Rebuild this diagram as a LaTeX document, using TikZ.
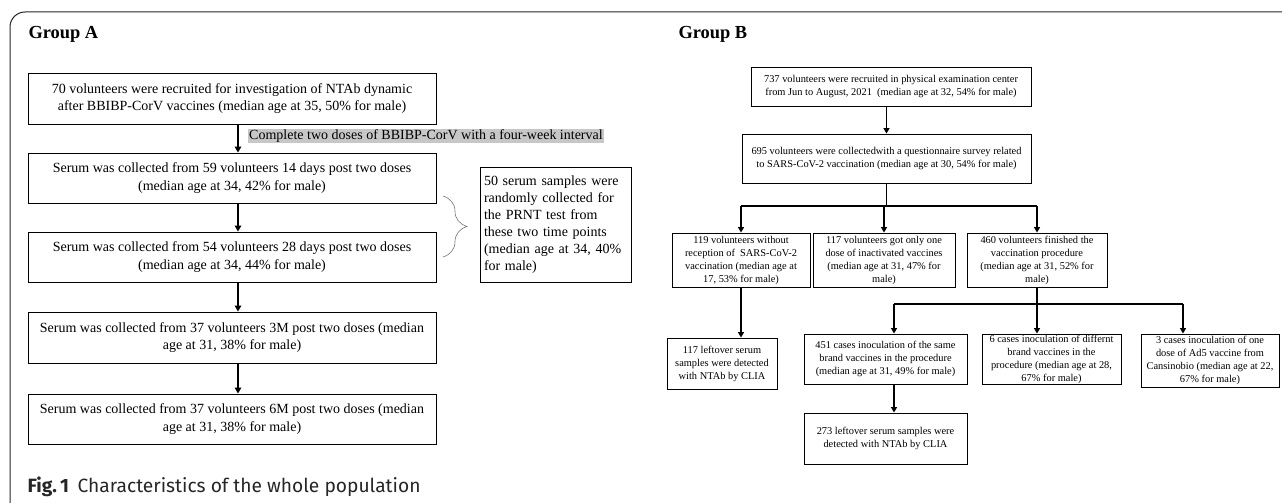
\documentclass[tikz,border=0pt]{standalone}
\usepackage{fontspec}
\setmainfont{Liberation Serif}
\newfontfamily\capfont{Fira Sans}
\usetikzlibrary{arrows.meta,decorations.pathreplacing}

\begin{document}
\begin{tikzpicture}[x=1pt, y=1pt,
    boxA/.style={draw, line width=0.9pt, align=center, inner sep=0pt,
        font=\fontsize{14}{17.5}\selectfont},
    boxB/.style={draw, line width=0.9pt, align=center, inner sep=0pt,
        font=\fontsize{10.4}{13}\selectfont},
    arrA/.style={line width=2.2pt, -{Triangle[length=6pt, width=6.5pt]}},
    arrB/.style={line width=1.8pt, -{Triangle[length=5.5pt, width=6pt]}},
    grouptitle/.style={anchor=west, font=\fontsize{18.4}{20}\selectfont\bfseries}]
    \useasboundingbox (0,0) rectangle (1282,-503);

    % Open frame round the figure
    \draw[line width=1pt, black!85, rounded corners=15pt] (1282,-12) -- (10,-12) -- (10,-503);

    % --- Group A ---
    \node[grouptitle] (ta) at (25,-34) {Group A};

    \node[boxA, minimum width=408pt, minimum height=51pt] (a1) at (232,-98.5)
        {70 volunteers were recruited for investigation of NTAb dynamic\\after BBIBP-CorV vaccines (median age at 35, 50\% for male)};
    \node[boxA, minimum width=408pt, minimum height=50pt] (a2) at (232,-178)
        {Serum was collected from 59 volunteers 14 days post two doses\\(median age at 34, 42\% for male)};
    \node[boxA, minimum width=408pt, minimum height=50pt] (a3) at (232,-257)
        {Serum was collected from 54 volunteers 28 days post two doses\\(median age at 34, 44\% for male)};
    \node[boxA, minimum width=408pt, minimum height=51pt] (a4) at (232,-337.5)
        {Serum was collected from 37 volunteers 3M post two doses (median\\age at 31, 38\% for male)};
    \node[boxA, minimum width=408pt, minimum height=50pt] (a5) at (232,-419)
        {Serum was collected from 37 volunteers 6M post two doses (median\\age at 31, 38\% for male)};

    % arrows between the time points
    \foreach \u/\v in {a1/a2, a2/a3, a3/a4, a4/a5} {
        \draw[arrA] ([xshift=6pt]\u.south) -- ([xshift=6pt]\v.north);
    }

    % Label of the first arrow (grey background)
    \node[anchor=west, fill=black!22, inner sep=1pt, font=\fontsize{14}{15}\selectfont] (lab) at (248,-136)
        {Complete two doses of BBIBP-CorV with a four-week interval};

    % --- PRNT samples, with the brace over two time points ---
    \node[boxA, align=left, minimum width=151pt, minimum height=115pt, text width=143pt, font=\fontsize{14}{17}\selectfont] (prnt) at (555.5,-224.5)
        {50 serum samples were\\randomly collected for\\the PRNT test from\\these two time points\\(median age at 34, 40\%\\for male)};
    \draw[black!55, line width=0.6pt, decorate, decoration={brace, amplitude=24pt}] (443,-196) -- (443,-257);

    % --- Group B ---
    \node[grouptitle] (tb) at (675,-34) {Group B};

    \node[boxB, minimum width=280pt, minimum height=39pt] (b1) at (891,-86.5)
        {737 volunteers were recruited in physical examination center\\from Jun to August, 2021~~(median age at 32, 54\% for male)};
    \node[boxB, minimum width=289pt, minimum height=49pt] (b2) at (886.5,-158.5)
        {695 volunteers were collectedwith a questionnaire survey related\\to SARS-CoV-2 vaccination (median age at 30, 54\% for male)};
    \draw[arrB] (b1.south -| b2.south) -- (b2.north);

    % second row
    \node[boxB, minimum width=138pt, minimum height=54pt] (b3a) at (741,-260)
        {119 volunteers without\\reception of~~SARS-CoV-2\\vaccination (median age at\\17, 53\% for male)};
    \node[boxB, minimum width=142pt, minimum height=54pt] (b3b) at (884,-260)
        {117 volunteers got only one\\dose of inactivated vaccines\\(median age at 31, 47\% for\\male)};
    \node[boxB, minimum width=140pt, minimum height=54pt] (b3c) at (1037,-260)
        {460 volunteers finished the\\vaccination procedure\\(median age at 31, 52\% for\\male)};

    \coordinate (bar1) at (886,-206);
    \draw[line width=1.8pt] (b2.south) -- (b2.south |- bar1);
    \draw[line width=1.8pt] (b3a.north |- bar1) -- (b3c.north |- bar1);
    \foreach \n in {b3a, b3b, b3c} {
        \draw[arrB] (\n.north |- bar1) -- (\n.north);
    }

    % third row
    \node[boxB, minimum width=110pt, minimum height=51pt] (b4a) at (722,-363.5)
        {117 leftover serum\\samples were detected\\with NTAb by CLIA};
    \node[boxB, minimum width=163pt, minimum height=50pt] (b4b) at (885.5,-359)
        {451 cases inoculation of the same\\brand vaccines in the procedure\\(median age at 31, 49\% for male)};
    \node[boxB, minimum width=139pt, minimum height=50pt] (b4c) at (1051.5,-359)
        {6 cases inoculation of differnt\\brand vaccines in the\\procedure (median age at 28,\\67\% for male)};
    \node[boxB, minimum width=138pt, minimum height=53pt] (b4d) at (1210,-360.5)
        {3 cases inoculation of one\\dose of Ad5 vaccine from\\Cansinobio (median age at 22,\\67\% for male)};
    \node[boxB, minimum width=163pt, minimum height=51pt] (b5) at (885.5,-438.5)
        {273 leftover serum samples were\\detected with NTAb by CLIA};

    \draw[arrB] (b3a.south) -- (b3a.south |- b4a.north);

    \coordinate (k1) at (894,-304);
    \coordinate (k3) at (1183,-304);
    \draw[line width=1.8pt] (b3c.south) -- (b3c.south |- k1);
    \draw[line width=1.8pt] (k1) -- (k3);
    \draw[arrB] (k1) -- (k1 |- b4b.north);
    \draw[arrB] (b3c.south |- k1) -- (b3c.south |- b4c.north);
    \draw[arrB] (k3) -- (k3 |- b4d.north);
    \draw[arrB] (k1 |- b4b.south) -- (k1 |- b5.north);

    % Caption
    \node[anchor=west, text=black!85, font=\capfont\fontsize{19.2}{21}\selectfont] (cap) at (24,-487)
        {\textbf{Fig.\,1}\hspace{0.45em}Characteristics of the whole population};
\end{tikzpicture}
\end{document}
